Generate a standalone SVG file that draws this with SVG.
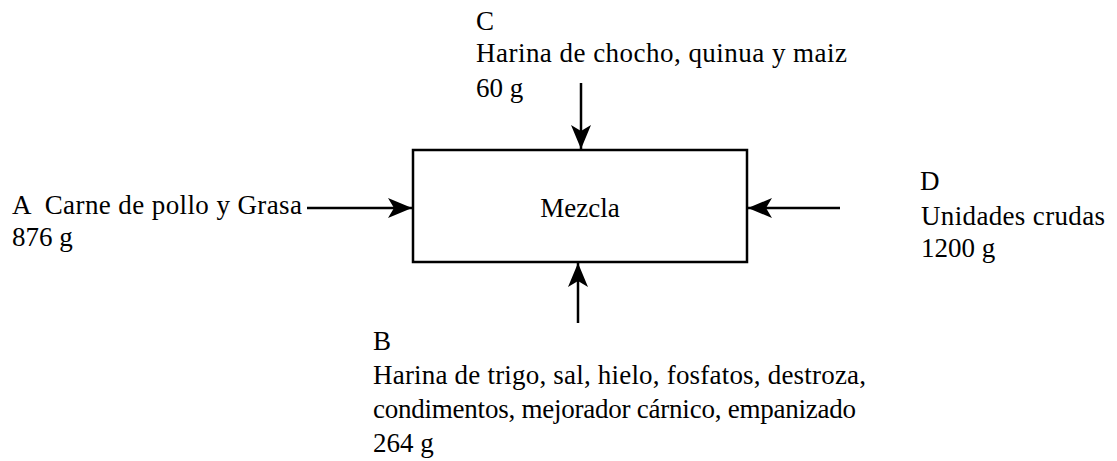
<svg xmlns="http://www.w3.org/2000/svg" width="1117" height="461" viewBox="0 0 1117 461">
  <style>
    .t { font-family: "Liberation Serif", "Times New Roman", serif; font-size: 27px; fill: #000; }
    .box { fill: #fff; stroke: #000; stroke-width: 2.5; }
    .conn { stroke: #000; stroke-width: 2.5; fill: none; marker-end: url(#arr); }
  </style>
  <defs>
    <marker id="arr" markerUnits="userSpaceOnUse" viewBox="-25 -11 26 22" markerWidth="26" markerHeight="22" refX="0" refY="0" orient="auto">
      <path d="M0,0 L-24,-10 L-18,0 L-24,10 Z" fill="#000"/>
    </marker>
  </defs>
  <rect width="1117" height="461" fill="#fff"/>

  <g id="mezcla">
    <rect class="box" x="413" y="150" width="334" height="112"/>
    <text class="t" x="580" y="217" text-anchor="middle">Mezcla</text>
  </g>

  <g id="input-c">
    <text class="t" x="476" y="30">C</text>
    <text class="t" x="476" y="62" textLength="371" lengthAdjust="spacing">Harina de chocho, quinua y maiz</text>
    <text class="t" x="476" y="97">60 g</text>
  </g>

  <g id="input-a">
    <text class="t" x="12" y="214" xml:space="preserve" textLength="290" lengthAdjust="spacing">A  Carne de pollo y Grasa</text>
    <text class="t" x="12" y="246">876 g</text>
  </g>

  <g id="input-d">
    <text class="t" x="920" y="190">D</text>
    <text class="t" x="921" y="225" textLength="184" lengthAdjust="spacing">Unidades crudas</text>
    <text class="t" x="921" y="257">1200 g</text>
  </g>

  <g id="input-b">
    <text class="t" x="373" y="350">B</text>
    <text class="t" x="373" y="384" textLength="493" lengthAdjust="spacing">Harina de trigo, sal, hielo, fosfatos, destroza,</text>
    <text class="t" x="373" y="418" textLength="483" lengthAdjust="spacing">condimentos, mejorador cárnico, empanizado</text>
    <text class="t" x="373" y="452">264 g</text>
  </g>

  <g id="connectors">
    <line class="conn" x1="581" y1="83" x2="581" y2="149"/>
    <line class="conn" x1="307" y1="208" x2="412" y2="208"/>
    <line class="conn" x1="840" y1="208" x2="748" y2="208"/>
    <line class="conn" x1="578" y1="323" x2="578" y2="263"/>
  </g>
</svg>
